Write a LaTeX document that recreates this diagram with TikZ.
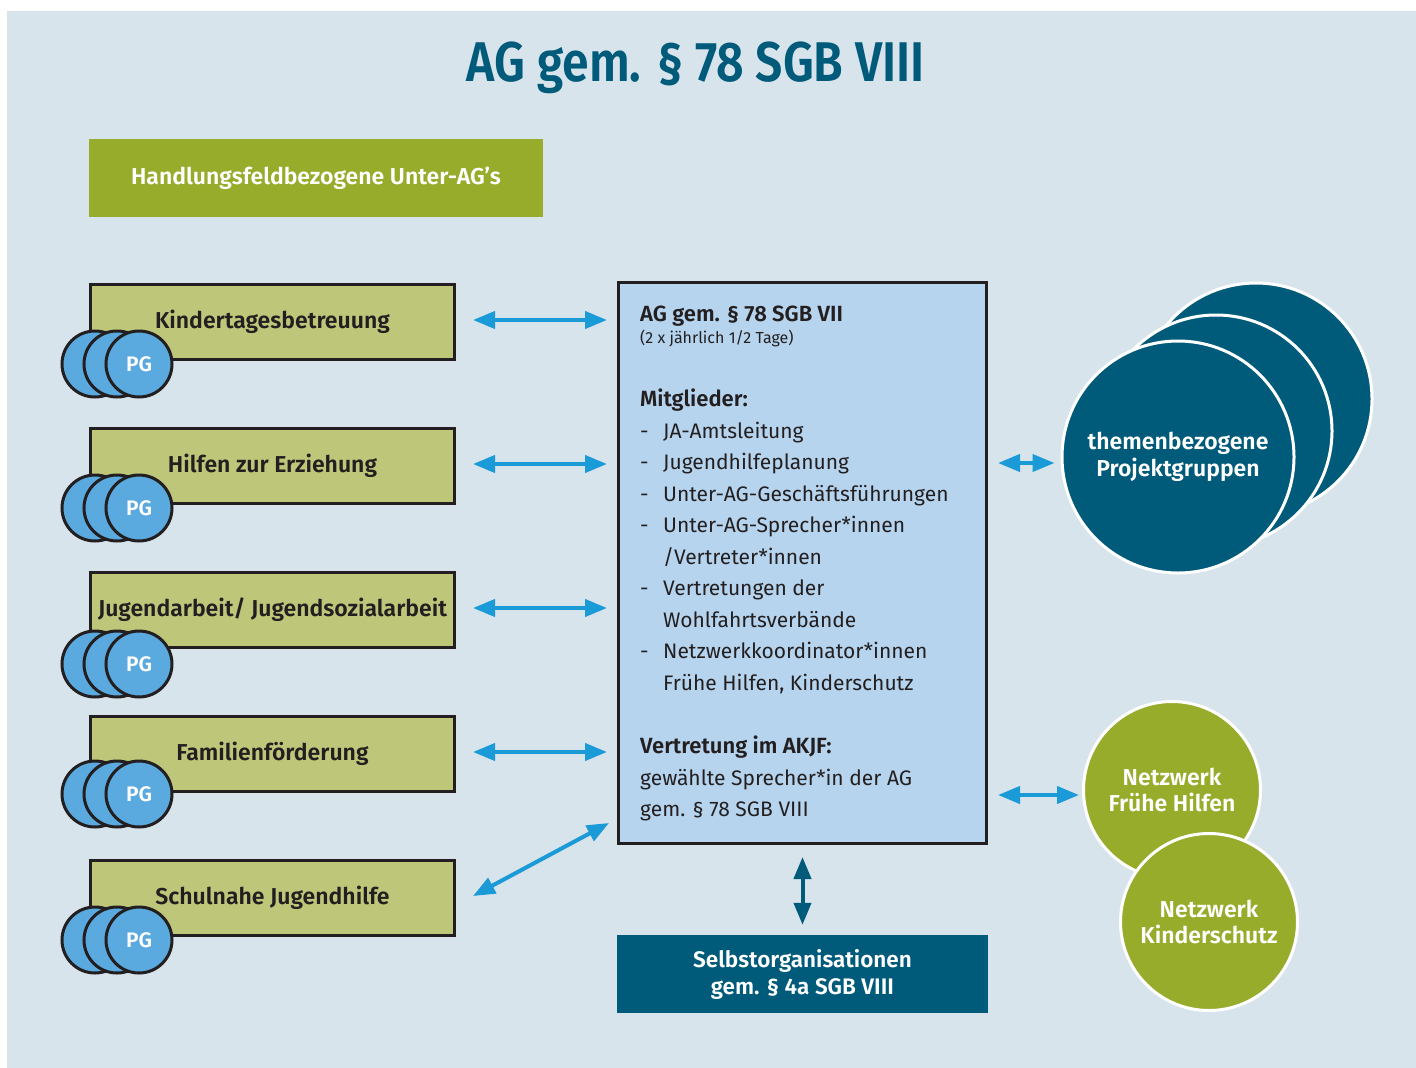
\documentclass[tikz,border=0pt]{standalone}
\usepackage{fontspec}
\setmainfont{Fira Sans}[BoldFont={Fira Sans SemiBold}]
\newfontfamily\titlefont{Fira Sans}[FakeStretch=0.86, BoldFont={Fira Sans SemiBold}]
\usetikzlibrary{arrows.meta,calc}
\definecolor{bgcol}{HTML}{D7E4EC}
\definecolor{teal}{HTML}{005A7A}
\definecolor{olivedark}{HTML}{97AC2A}
\definecolor{olivelight}{HTML}{BEC67A}
\definecolor{pgblue}{HTML}{5AAADF}
\definecolor{centerblue}{HTML}{B6D4EE}
\definecolor{arrowblue}{HTML}{1A9AD6}
\definecolor{darktext}{HTML}{231F20}
\tikzset{
  subbox/.style={draw=darktext, line width=3pt, fill=olivelight, minimum width=364pt, minimum height=75pt, inner sep=0pt, text=darktext, font=\bfseries\fontsize{23}{27}\selectfont},
  pgcirc/.style={circle, draw=darktext, line width=3pt, fill=pgblue, minimum size=66pt, inner sep=0pt, text=white, font=\bfseries\fontsize{21}{21}\selectfont},
  projcirc/.style={circle, draw=white, line width=3pt, fill=teal, minimum size=232pt, inner sep=0pt, text=white, align=center, font=\bfseries\fontsize{23}{27}\selectfont},
  netcirc/.style={circle, draw=white, line width=3pt, fill=olivedark, minimum size=177pt, inner sep=0pt, text=white, align=center, font=\bfseries\fontsize{23}{26}\selectfont},
  linkarrow/.style={draw=arrowblue, line width=4pt, {Triangle[length=22pt,width=17pt]}-{Triangle[length=22pt,width=17pt]}},
  bodytext/.style={anchor=base west, inner sep=0pt, text=darktext, font=\fontsize{21}{21}\selectfont},
  boldtext/.style={bodytext, font=\bfseries\fontsize{22}{22}\selectfont}
}
\begin{document}
\begin{tikzpicture}[x=1pt,y=-1pt]
\useasboundingbox (0,0) rectangle (1416,1068);
\fill[white] (0,0) rectangle (1416,1068);
\fill[bgcol] (7,11) rectangle (1416,1068);

% title
\node[text=teal, font=\titlefont\bfseries\fontsize{56}{56}\selectfont] (title) at (696,68) {AG gem. § 78 SGB VIII};

% header
\node[fill=olivedark, minimum width=454pt, minimum height=78pt, inner sep=0pt, text=white, font=\bfseries\fontsize{23}{27}\selectfont] (head) at (316,178) {Handlungsfeldbezogene Unter-AG’s};

% left boxes
\node[subbox] (b1) at (272.5,322) {Kindertagesbetreuung};
\node[subbox] (b2) at (272.5,466) {Hilfen zur Erziehung};
\node[subbox] (b3) at (272.5,610) {Jugendarbeit/ Jugendsozialarbeit};
\node[subbox] (b4) at (272.5,754) {Familienförderung};
\node[subbox] (b5) at (272.5,898) {Schulnahe Jugendhilfe};

% PG clusters
\foreach \n/\y in {1/364,2/508,3/664,4/794,5/940}{
  \node[pgcirc] (pg\n a) at (95,\y) {};
  \node[pgcirc] (pg\n b) at (117,\y) {};
  \node[pgcirc] (pg\n c) at (139,\y) {PG};
}

% center box
\node[draw=darktext, line width=3pt, fill=centerblue, minimum width=368pt, minimum height=561pt, inner sep=0pt] (cbox) at (802.5,563) {};

\node[boldtext] (t1) at (640,321) {AG gem. § 78 SGB VII};
\node[bodytext, font=\fontsize{16}{16}\selectfont] (t2) at (640,343) {(2 x jährlich 1/2 Tage)};
\node[boldtext] (t3) at (640,406) {Mitglieder:};
\foreach \i/\txt/\d in {0/JA-Amtsleitung/1,1/Jugendhilfeplanung/1,2/Unter-AG-Geschäftsführungen/1,3/Unter-AG-Sprecher*innen/1,4/{/Vertreter*innen}/0,5/Vertretungen der/1,6/Wohlfahrtsverbände/0,7/Netzwerkkoordinator*innen/1,8/{Frühe Hilfen, Kinderschutz}/0}{
  \node[bodytext] (li\i) at (663,{438+31.5*\i}) {\txt};
  \ifnum\d=1 \node[bodytext] (ld\i) at (640,{438+31.5*\i}) {-}; \fi
}
\node[boldtext] (t4) at (640,753) {Vertretung im AKJF:};
\node[bodytext] (t5) at (640,785) {gewählte Sprecher*in der AG};
\node[bodytext] (t6) at (640,816) {gem. § 78 SGB VIII};

% bottom box
\node[fill=teal, minimum width=371pt, minimum height=78pt, inner sep=0pt, text=white, align=center, font=\bfseries\fontsize{22.5}{27}\selectfont] (selbst) at (802.5,974) {Selbstorganisationen\\gem. § 4a SGB VIII};

% project groups circles
\node[projcirc] (pr3) at (1256,399) {};
\node[projcirc] (pr2) at (1216,431) {};
\node[projcirc] (pr1) at (1178,457) {themenbezogene\\Projektgruppen};

% networks
\node[netcirc] (fh) at (1172,790) {Netzwerk\\Frühe Hilfen};
\node[netcirc] (ks) at (1209,922) {Netzwerk\\Kinderschutz};

% arrows
\foreach \n in {1,2,3,4}{
  \draw[linkarrow] ($(b\n.east)+(17,-2)$) -- ($(b\n.east -| cbox.west)+(-10,-2)$);
}
\draw[linkarrow] ($(b5.east)+(17,-2)$) -- ($(cbox.south west)+(-8,-22)$);
\draw[linkarrow] ($(cbox.east)+(10,-100)$) -- ($(pr1.west)+(-6,6)$);
\draw[linkarrow] ($(cbox.east |- fh.west)+(10,5)$) -- ($(fh.west)+(-3,5)$);
\draw[draw=teal, line width=4pt, {Triangle[length=22pt,width=17pt]}-{Triangle[length=22pt,width=17pt]}] ($(cbox.south)+(0,12)$) -- ($(selbst.north)+(0,-10)$);
\end{tikzpicture}
\end{document}
